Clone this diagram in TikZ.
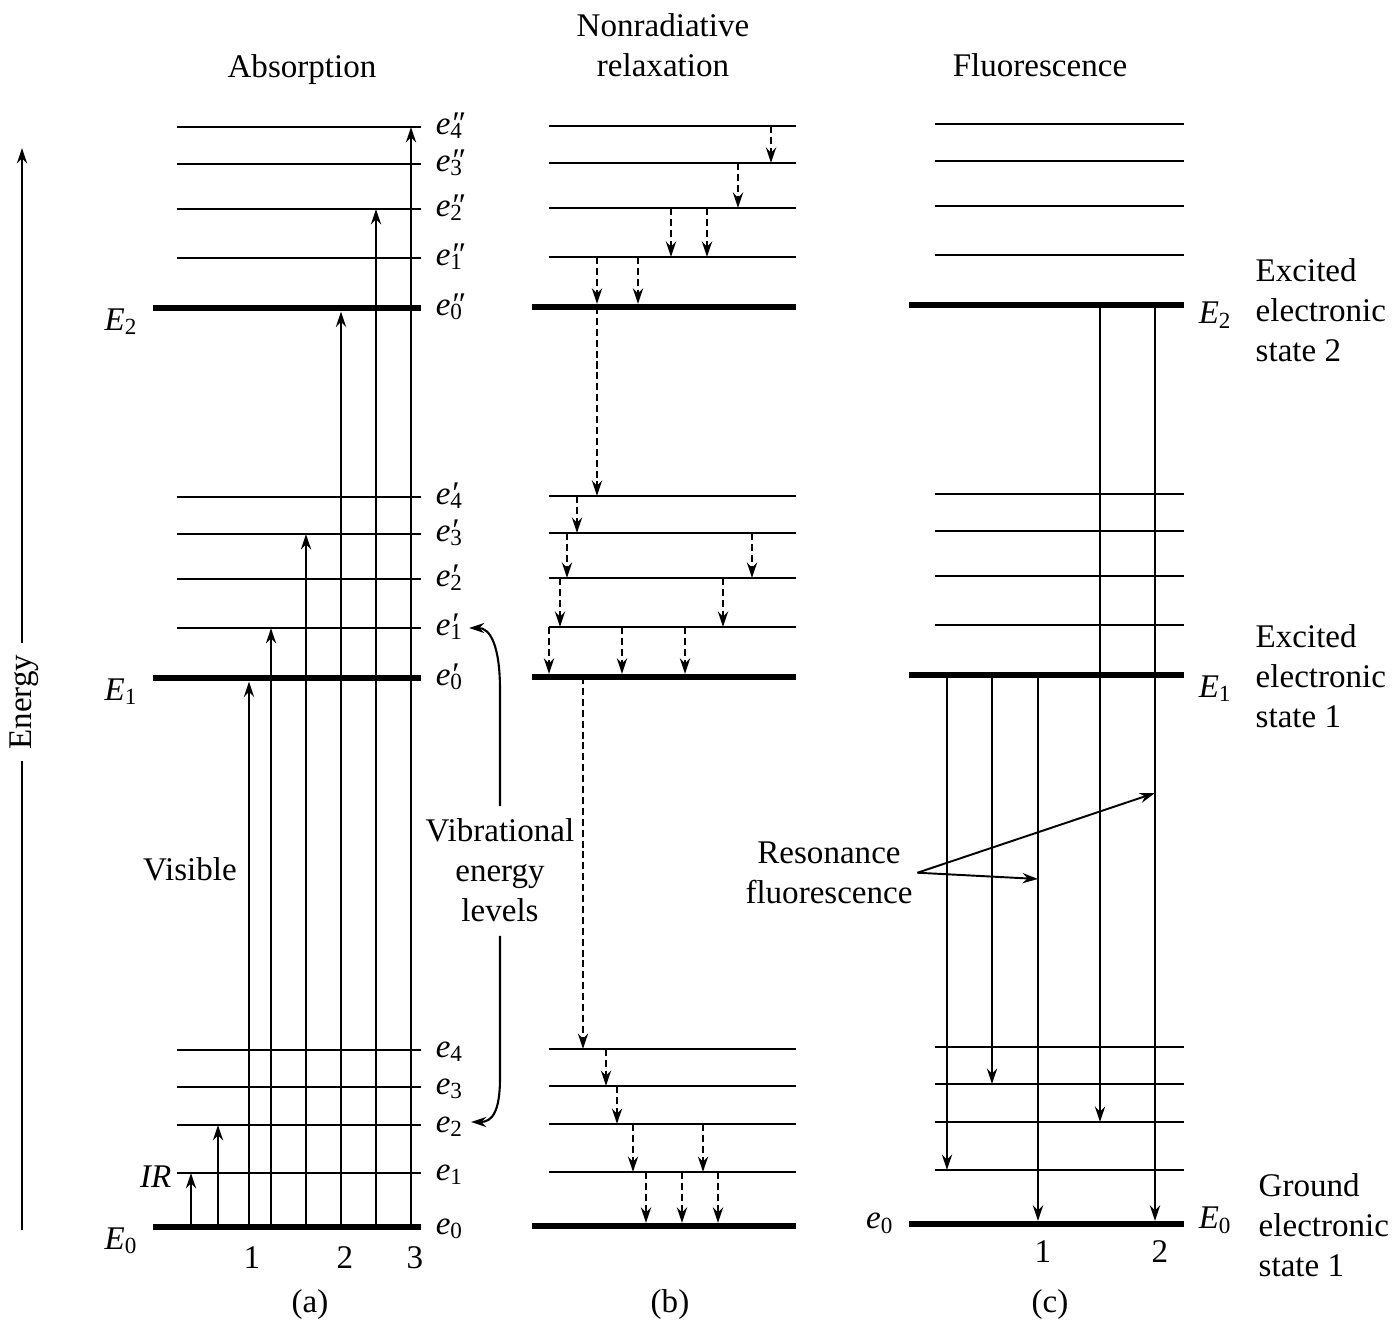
\documentclass[tikz,border=0pt]{standalone}
\usepackage{fontspec}
\setmainfont{Liberation Serif}
\usetikzlibrary{arrows.meta}

\begin{document}
\begin{tikzpicture}[
 x=0.01cm,y=-0.01cm,
 every node/.style={font=\fontsize{9.4pt}{11.4pt}\selectfont,inner sep=0pt},
 level/.style={line width=0.75pt},
 ground/.style={line width=1.9pt},
 up/.style={-{Stealth[length=4.4pt,width=2.9pt]},line width=0.7pt},
 relax/.style={up,dash pattern=on 2pt off 1.1pt},
 rlab/.style={anchor=base west,xshift=4pt,yshift=-2.1pt},
 state/.style={anchor=north west,align=left}
]
\useasboundingbox (0,0) rectangle (1399,1325);

% energy levels of the three panels
\foreach \p/\xa/\xb/\xc/\dy in {a/153/177/421/0, b/532/549/796/-1, c/909/935/1184/-3}{
  \foreach \s/\ya/\yb/\yc/\yd/\ye in {T/308/258/209/164/127, M/678/628/579/534/497, B/1227/1173/1125/1087/1050}{
    \draw[ground] (\xa,{\ya+(\dy)}) coordinate (\p\s0) -- (\xc,{\ya+(\dy)}) coordinate (\p\s0r);
    \foreach \k/\yy in {1/\yb,2/\yc,3/\yd,4/\ye}
      \draw[level] (\xb,{\yy+(\dy)}) coordinate (\p\s\k) -- (\xc,{\yy+(\dy)}) coordinate (\p\s\k r);
  }
}

% energy axis
\coordinate (ebot) at (22,1230);
\coordinate (etop) at (22,148);
\node[rotate=90,inner xsep=3pt] (energy) at (24,702) {Energy};
\draw[line width=0.7pt] (ebot) -- (ebot |- energy.west);
\draw[up] (etop |- energy.east) -- (etop);

% (a) absorption
\node[anchor=base] (absorb) at (302,78) {Absorption};
\foreach \x/\a/\b in {191/aB0/aB1, 218/aB0/aB2, 271/aB0/aM1, 306/aB0/aM3, 376/aB0/aT2, 411/aB0/aT4}
  \draw[up] (\x,0 |- \a) -- (\x,0 |- \b);
\foreach \x/\a/\b in {249/aB0/aM0, 341/aB0/aT0}
  \draw[up,shorten >=1pt] (\x,0 |- \a) -- (\x,0 |- \b);
\foreach \k in {0,...,4} \node[rlab] (laT\k) at (aT\k r) {\textit{e\rlap{″}}\textsubscript{\k}};
\foreach \k in {0,...,4} \node[rlab] (laM\k) at (aM\k r) {\textit{e\rlap{′}}\textsubscript{\k}};
\foreach \k in {0,...,4} \node[rlab] (laB\k) at (aB\k r) {\textit{e}\textsubscript{\k}};
\node[anchor=north east,xshift=-4pt] (aE2) at (aT0) {\textit{E}\textsubscript{2}};
\node[anchor=north east,xshift=-4pt] (aE1) at (aM0) {\textit{E}\textsubscript{1}};
\node[anchor=north east,xshift=-4pt] (aE0) at (aB0) {\textit{E}\textsubscript{0}};
\node[anchor=base] (visible) at (190,881) {Visible};
\node[anchor=east] (ir) at (172,1177) {\textit{IR}};
\node (na1) at (252,1258) {1};
\node (na2) at (345,1258) {2};
\node (na3) at (415,1258) {3};
\node (capa) at (310,1305) {(a)};

% vibrational levels
\node[anchor=north,align=center] (vib) at (500,818) {Vibrational\\energy\\levels};
\coordinate (vtip1) at (469,628);
\coordinate (vtip2) at (471,1122);
\draw[up,line width=0.6pt] ([yshift=3.4pt]vib.north) -- (vib.north |- 0,690)
  .. controls (vib.north |- 0,645) and (490,628) .. (vtip1);
\draw[up,line width=0.6pt] ([yshift=-3.7pt]vib.south) -- (vib.south |- 0,1078)
  .. controls (vib.south |- 0,1112) and (492,1122) .. (vtip2);

% (b) nonradiative relaxation
\node[anchor=north,align=center] (nonrad) at (663,13) {Nonradiative\\relaxation};
\foreach \x/\a/\b in {771/bT4/bT3, 738/bT3/bT2, 671/bT2/bT1, 707/bT2/bT1, 597/bT0/bM4,
  577/bM4/bM3, 567/bM3/bM2, 752/bM3/bM2, 560/bM2/bM1, 723/bM2/bM1, 583/bM0/bB4,
  606/bB4/bB3, 617/bB3/bB2, 633/bB2/bB1, 703/bB2/bB1}
  \draw[relax] (\x,0 |- \a) -- (\x,0 |- \b);
\foreach \x/\a/\b in {597/bT1/bT0, 638/bT1/bT0, 549/bM1/bM0, 622/bM1/bM0, 685/bM1/bM0,
  646/bB1/bB0, 682/bB1/bB0, 718/bB1/bB0}
  \draw[relax,shorten >=0.9pt] (\x,0 |- \a) -- (\x,0 |- \b);
\node (capb) at (670,1305) {(b)};

% (c) fluorescence
\node[anchor=base] (fluor) at (1040,77) {Fluorescence};
\foreach \x/\a/\b in {1100/cT0/cB2, 947/cM0/cB1, 992/cM0/cB3}
  \draw[up] (\x,0 |- \a) -- (\x,0 |- \b);
\foreach \x/\a/\b in {1155/cT0/cB0, 1038/cM0/cB0}
  \draw[up,shorten >=0.9pt] (\x,0 |- \a) -- (\x,0 |- \b);
\node[anchor=north west,xshift=4pt,yshift=1pt] (cE2) at (cT0r) {\textit{E}\textsubscript{2}};
\node[anchor=north west,xshift=4pt] (cE1) at (cM0r) {\textit{E}\textsubscript{1}};
\node[anchor=base west,xshift=4pt,yshift=-1.4pt] (cE0) at (cB0r) {\textit{E}\textsubscript{0}};
\node[anchor=base east,xshift=-4pt,yshift=-1.4pt] (ce0) at (cB0) {\textit{e}\textsubscript{0}};
\node[state] (st2) at (1255,258) {Excited\\electronic\\state 2};
\node[state] (st1) at (1255,624) {Excited\\electronic\\state 1};
\node[state] (st0) at (1258,1173) {Ground\\electronic\\state 1};
\node (nc1) at (1043,1252) {1};
\node (nc2) at (1160,1252) {2};
\node (capc) at (1050,1305) {(c)};

% resonance fluorescence
\node[anchor=north,align=center] (res) at (829,841) {Resonance\\fluorescence};
\coordinate (rf) at ([xshift=1.2pt]res.east);
\coordinate (rfa) at (1155,793);
\coordinate (rfb) at (1038,879);
\draw[up,line width=0.55pt] (rf) -- (rfa);
\draw[up,line width=0.55pt] (rf) -- (rfb);
\end{tikzpicture}
\end{document}
